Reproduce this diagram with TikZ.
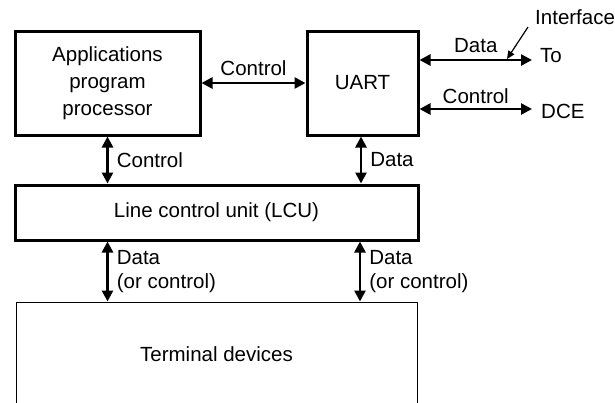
\documentclass[tikz,border=0pt]{standalone}
\usepackage{fontspec}
\setmainfont{Liberation Sans}
\usetikzlibrary{arrows.meta}
\begin{document}
\begin{tikzpicture}[x=1pt,y=-1pt,
  every node/.style={font=\fontsize{20.5}{27}\selectfont},
  blk/.style={draw,line width=3pt,align=center,inner sep=0pt},
  thinblk/.style={draw,line width=1pt,inner sep=0pt},
  lbl/.style={inner sep=0pt,align=left},
  biarrow/.style={line width=2.6pt,{Triangle[length=11pt,width=11pt]}-{Triangle[length=11pt,width=11pt]}},
  lead/.style={line width=1.2pt,-{Triangle[length=8pt,width=7pt]}}]
\useasboundingbox (0,0) rectangle (615,402);
% blocks
\node[blk,minimum width=185pt,minimum height=104pt] (app) at (107.5,83) {Applications\\program\\processor};
\node[blk,minimum width=111pt,minimum height=104pt] (uart) at (362.5,83) {UART};
\node[blk,minimum width=403pt,minimum height=55pt] (lcu) at (216.5,212.5) {Line control unit (LCU)};
\node[thinblk,minimum width=401pt,minimum height=104pt] (term) at (216.5,354) {Terminal devices};
% right side texts
\node[lbl,anchor=west] (to) at (540,56) {To};
\node[lbl,anchor=west] (dce) at (541,111) {DCE};
\node[lbl,anchor=west] (iface) at (535,17) {Interface};
\coordinate (toend) at (532,60);
\coordinate (dceend) at (532,109);
\coordinate (ifstart) at (528,27);
\coordinate (iftip) at (507,59);
% connectors
\draw[biarrow] (app.east) -- node[lbl,above=6pt] (c1) {Control} (uart.west);
\draw[biarrow] (app.south) -- node[lbl,right=8pt] (c2) {Control} (app.south |- lcu.north);
\draw[biarrow] (uart.south -| 361,0) -- node[lbl,right=8pt] (d1) {Data} (lcu.north -| 361,0);
\draw[biarrow] (uart.east |- toend) -- node[lbl,above=6pt] (d2) {Data} (toend);
\draw[biarrow] (uart.east |- dceend) -- node[lbl,above=4pt] (c3) {Control} (dceend);
\draw[lead] (ifstart) -- (iftip);
\draw[biarrow] (lcu.south -| app.south) -- node[lbl,right=8pt,font=\fontsize{20.5}{24}\selectfont] (d3) {Data\\(or control)} (term.north -| app.south);
\draw[biarrow] (lcu.south -| 360,0) -- node[lbl,right=8pt,font=\fontsize{20.5}{24}\selectfont] (d4) {Data\\(or control)} (term.north -| 360,0);
\end{tikzpicture}
\end{document}
